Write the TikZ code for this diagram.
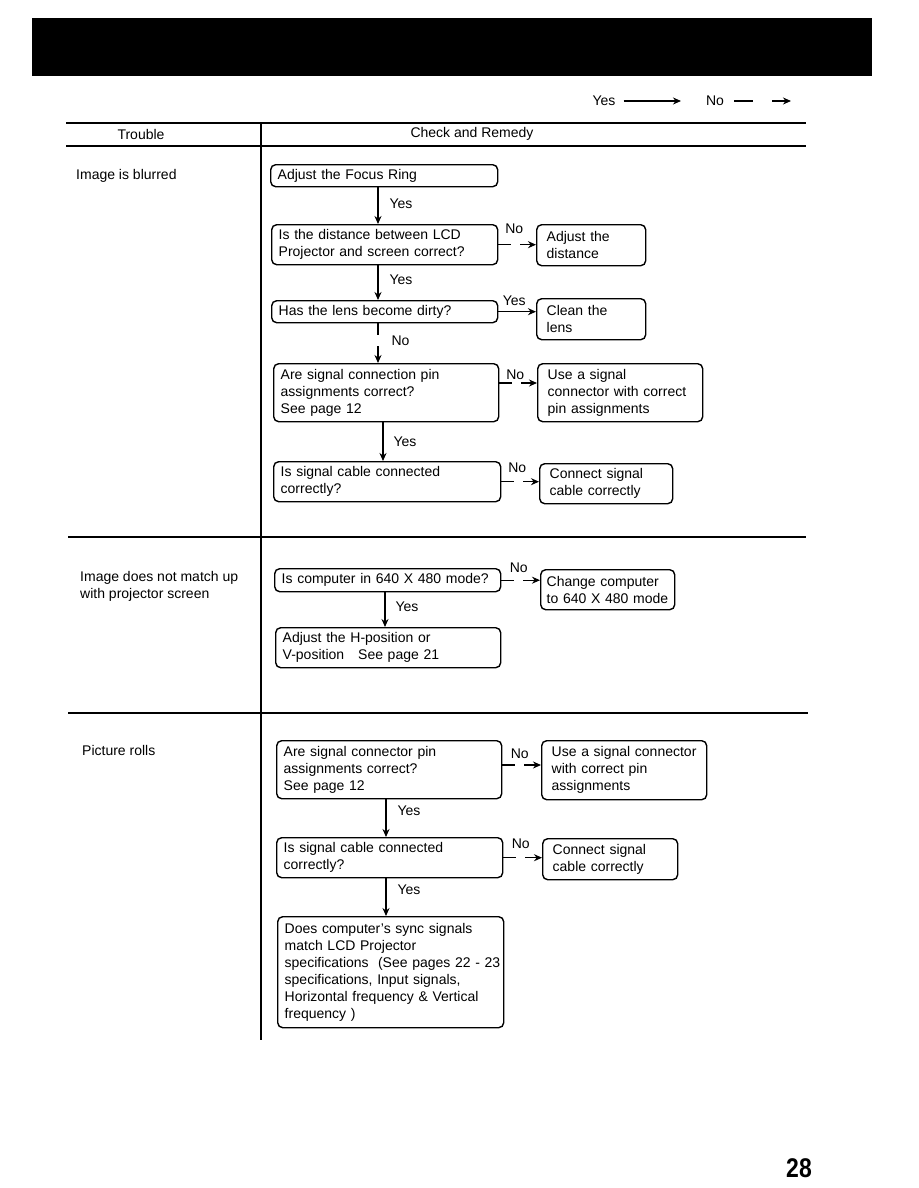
\documentclass[tikz,border=0pt]{standalone}
\usepackage{fontspec}
\setmainfont{Liberation Sans}
\usetikzlibrary{arrows.meta,calc}
\begin{document}
\begin{tikzpicture}[x=1pt,y=-1pt,
  fs/.style={font=\fontsize{14}{17}\selectfont},
  box/.style={draw, line width=1.4pt, rounded corners=5pt, anchor=north west, inner xsep=7pt, inner ysep=0pt, align=left, fs},
  rbox/.style={box, inner xsep=10pt},
  yesarr/.style={line width=1.2pt, -{Stealth[length=8pt,width=7pt]}},
  noarr/.style={line width=1.2pt, dash pattern=on 13pt off 9pt, -{Stealth[length=8pt,width=7pt]}},
  lbl/.style={fs, inner sep=0pt},
  rulel/.style={line width=1.6pt},
]
\useasboundingbox (0,0) rectangle (918,1188);
% header bar
\fill[black] (32,18) rectangle (872,76);
% legend
\node[lbl] (lyes) at (604,101) {Yes};
\coordinate (lyesend) at (681,101);
\draw[yesarr, shorten <=8pt] (lyes.east) -- (lyesend);
\node[lbl] (lno) at (715,101) {No};
\coordinate (lnoend) at (791,101);
\draw[line width=1.2pt, dash pattern=on 19pt off 19pt, shorten <=10pt, -{Stealth[length=8pt,width=7pt]}] (lno.east) -- (lnoend);
% table rules
\draw[rulel] (66,123) -- (806,123);
\draw[rulel] (66,146) -- (806,146);
\draw[rulel] (68,537) -- (806,537);
\draw[rulel] (68,713) -- (808,713);
\draw[rulel] (261,123) -- (261,1040);
\node[lbl] (hTrouble) at (141,134) {Trouble};
\node[lbl] (hCheck) at (472,134) {Check and Remedy};
% trouble labels
\node[lbl, anchor=west, align=left] (t1) at (76,176) {Image is blurred};
\node[lbl, anchor=north west, align=left] (t2) at (80,571) {Image does not match up\\with projector screen};
\node[lbl, anchor=west, align=left] (t3) at (82,750) {Picture rolls};
% column coordinates
\coordinate (c1) at (378,0);
\coordinate (c2) at (383,0);
\coordinate (c3) at (385,0);
\coordinate (c4) at (386,0);
% section 1
\node[box, minimum width=227pt, minimum height=22pt, text width=213pt] (b1) at (270,164) {Adjust the Focus Ring};
\node[box, minimum width=226pt, minimum height=40pt, text width=212pt] (b2) at (271,224) {Is the distance between LCD\\Projector and screen correct?};
\node[rbox, minimum width=109pt, minimum height=41pt, text width=89pt] (b3) at (536,224) {Adjust the\\distance};
\node[box, minimum width=226pt, minimum height=22pt, text width=212pt] (b4) at (271,300) {Has the lens become dirty?};
\node[rbox, minimum width=109pt, minimum height=41pt, text width=89pt] (b5) at (536,298) {Clean the\\lens};
\node[box, minimum width=225pt, minimum height=58pt, text width=211pt] (b6) at (273,363) {Are signal connection pin\\assignments correct?\\See page 12};
\node[rbox, minimum width=165pt, minimum height=58pt, text width=145pt] (b7) at (537,363) {Use a signal\\connector with correct\\pin assignments};
\node[box, minimum width=227pt, minimum height=40pt, text width=213pt] (b8) at (273,461) {Is signal cable connected\\correctly?};
\node[rbox, minimum width=133pt, minimum height=40pt, text width=113pt] (b9) at (539,463) {Connect signal\\cable correctly};
\draw[yesarr] (b1.south -| c1) -- node[lbl, anchor=west, xshift=11pt, yshift=2pt] {Yes} (b2.north -| c1);
\draw[noarr] (b2.east) -- node[lbl, pos=0.42, yshift=16pt] {No} (b3.west |- b2.east);
\draw[yesarr] (b2.south -| c1) -- node[lbl, anchor=west, xshift=11pt, yshift=3pt] {Yes} (b4.north -| c1);
\draw[yesarr] (b4.east) -- node[lbl, pos=0.42, yshift=11pt] {Yes} (b5.west |- b4.east);
\draw[noarr, dash pattern=on 12pt off 11pt] (b4.south -| c1) -- node[lbl, anchor=west, xshift=13pt, yshift=2pt] {No} (b6.north -| c1);
\draw[noarr] ($(b6.north east)+(0,20)$) -- node[lbl, pos=0.42, yshift=8pt] {No} ($(b7.north west)+(0,20)$);
\draw[yesarr] (b6.south -| c2) -- node[lbl, anchor=west, xshift=10pt] {Yes} (b8.north -| c2);
\draw[noarr] (b8.east) -- node[lbl, pos=0.42, yshift=14pt] {No} (b9.west |- b8.east);
% section 2
\node[box, minimum width=226pt, minimum height=23pt, text width=212pt] (b10) at (274,568) {Is computer in 640 X 480 mode?};
\node[rbox, minimum width=134pt, minimum height=40pt, inner xsep=6pt, text width=122pt] (b11) at (540,569) {Change computer\\to 640 X 480 mode};
\node[box, minimum width=225pt, minimum height=40pt, text width=211pt] (b12) at (275,627) {Adjust the H-position or\\V-position\quad See page 21};
\draw[noarr] (b10.east) -- node[lbl, pos=0.45, yshift=12pt] {No} (b11.west |- b10.east);
\draw[yesarr] (b10.south -| c3) -- node[lbl, anchor=west, xshift=10pt, yshift=3pt] {Yes} (b12.north -| c3);
% section 3
\node[box, minimum width=225pt, minimum height=58pt, text width=211pt] (b13) at (276,740) {Are signal connector pin\\assignments correct?\\See page 12};
\node[rbox, minimum width=165pt, minimum height=59pt, text width=145pt] (b14) at (541,740) {\mbox{Use a signal connector}\\with correct pin\\assignments};
\node[box, minimum width=226pt, minimum height=40pt, text width=212pt] (b15) at (276,837) {Is signal cable connected\\correctly?};
\node[rbox, minimum width=135pt, minimum height=41pt, text width=115pt] (b16) at (542,838) {Connect signal\\cable correctly};
\node[box, minimum width=226pt, minimum height=111pt, text width=212pt] (b17) at (277,916) {Does computer's sync signals\\match LCD Projector\\\mbox{specifications\ \ (See pages 22 - 23}\\specifications, Input signals,\\Horizontal frequency \& Vertical\\frequency )};
\draw[noarr] ($(b13.north east)+(0,25)$) -- node[lbl, pos=0.45, yshift=11pt] {No} ($(b14.north west)+(0,25)$);
\draw[yesarr] (b13.south -| c4) -- node[lbl, anchor=west, xshift=11pt, yshift=7pt] {Yes} (b15.north -| c4);
\draw[noarr] (b15.east) -- node[lbl, pos=0.45, yshift=14pt] {No} (b16.west |- b15.east);
\draw[yesarr] (b15.south -| c4) -- node[lbl, anchor=west, xshift=11pt, yshift=7pt] {Yes} (b17.north -| c4);
% page number
\node[inner sep=0pt, font=\fontsize{27}{27}\selectfont\bfseries, xscale=0.85] (pg) at (799,1168) {28};
\end{tikzpicture}
\end{document}
